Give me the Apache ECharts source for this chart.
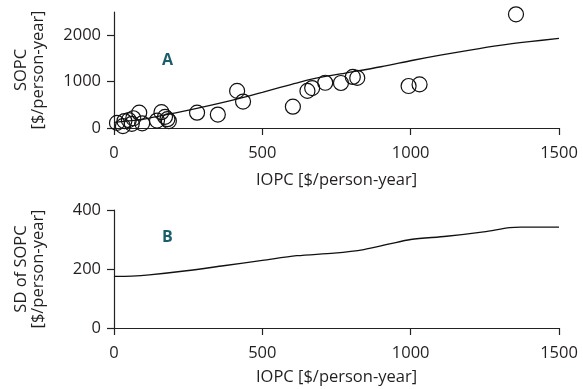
<!DOCTYPE html>
<html>
<head>
<meta charset="utf-8">
<script src="https://cdn.jsdelivr.net/npm/echarts@6/dist/echarts.min.js"></script>
<style>html,body{margin:0;padding:0;background:#fff;}#c{width:583px;height:389px;}</style>
</head>
<body>
<div id="c"></div>
<script>
// Panel A: observed SOPC vs IOPC (scatter) and fitted curve
const scatterA = [
  [10,110],[30,40],[35,150],[50,170],[60,90],[65,210],[85,330],[95,100],
  [145,160],[160,340],[172,240],[180,190],[185,150],[280,330],[350,290],
  [415,800],[435,570],[603,460],[652,800],[668,860],[712,975],[765,970],
  [805,1100],[820,1080],[993,905],[1030,940],[1355,2450]
];
const curveA = [
  [0,120],[100,190],[155,260],[256,390],[400,600],[500,770],[560,875],
  [627,990],[694,1090],[785,1190],[900,1320],[1008,1460],[1100,1570],
  [1200,1680],[1300,1780],[1400,1860],[1500,1930]
];
// Panel B: SD of SOPC vs IOPC
const curveB = [
  [0,175],[60,176],[119,180],[244,194],[369,211],[500,229],[616,245],[742,254],
  [842,266],[929,285],[1000,300],[1121,311],[1246,326],[1334,340],[1371,342],[1500,342]
];
const xTicks = [0,500,1000,1500];
const yTicksA = [0,1000,2000];
const yTicksB = [0,200,400];

const FONT = 'Open Sans';
const TXT = '#231f20';
const fmt = v => String(v);
const axisCommon = {
  axisLine: {show: true, lineStyle: {color: '#222', width: 1.2}},
  axisTick: {show: true, inside: false, length: 7, lineStyle: {color: '#222', width: 1.2}},
  splitLine: {show: false},
  nameTextStyle: {fontFamily: FONT, fontSize: 16.5, color: TXT, lineHeight: 17},
  axisLabel: {fontFamily: FONT, fontSize: 16.5, color: TXT, formatter: fmt}
};
function xAxis(gi, gap) {
  return Object.assign({}, axisCommon, {
    type: 'value', gridIndex: gi, min: 0, max: 1500, interval: 500,
    name: 'IOPC [$/person-year]', nameLocation: 'middle', nameGap: gap,
    axisLabel: Object.assign({}, axisCommon.axisLabel, {margin: 17, customValues: xTicks}),
    axisTick: Object.assign({}, axisCommon.axisTick, {customValues: xTicks})
  });
}
const chart = echarts.init(document.getElementById('c'), null, {renderer: 'canvas'});
chart.setOption({
  animation: false,
  backgroundColor: '#fff',
  grid: [
    {left: 114, top: 12, width: 445, height: 116},
    {left: 114, top: 210, width: 445, height: 118}
  ],
  xAxis: [xAxis(0, 44), xAxis(1, 41)],
  yAxis: [
    Object.assign({}, axisCommon, {
      type: 'value', gridIndex: 0, min: 0, max: 2500, interval: 1000,
      name: 'SOPC\n[$/person-year]', nameLocation: 'middle', nameGap: 67,
      axisLabel: Object.assign({}, axisCommon.axisLabel, {margin: 13, customValues: yTicksA}),
      axisTick: Object.assign({}, axisCommon.axisTick, {customValues: yTicksA})
    }),
    Object.assign({}, axisCommon, {
      type: 'value', gridIndex: 1, min: 0, max: 400, interval: 200,
      name: 'SD of SOPC\n[$/person-year]', nameLocation: 'middle', nameGap: 67,
      axisLabel: Object.assign({}, axisCommon.axisLabel, {margin: 13, customValues: yTicksB}),
      axisTick: Object.assign({}, axisCommon.axisTick, {customValues: yTicksB})
    })
  ],
  graphic: [
    {type: 'text', left: 162, top: 52, style: {text: 'A', font: 'bold 16px "Open Sans"', fill: '#1b5e6b'}},
    {type: 'text', left: 162, top: 229, style: {text: 'B', font: 'bold 16px "Open Sans"', fill: '#1b5e6b'}}
  ],
  series: [
    {type: 'line', xAxisIndex: 0, yAxisIndex: 0, data: curveA, smooth: 0.3, showSymbol: false,
      lineStyle: {color: '#111', width: 1.3}, z: 2},
    {type: 'scatter', xAxisIndex: 0, yAxisIndex: 0, data: scatterA, symbol: 'circle', symbolSize: 15,
      itemStyle: {color: 'rgba(0,0,0,0)', borderColor: '#111', borderWidth: 1.2, opacity: 1}, z: 3},
    {type: 'line', xAxisIndex: 1, yAxisIndex: 1, data: curveB, smooth: 0.3, showSymbol: false,
      lineStyle: {color: '#111', width: 1.3}}
  ]
});
</script>
</body>
</html>
